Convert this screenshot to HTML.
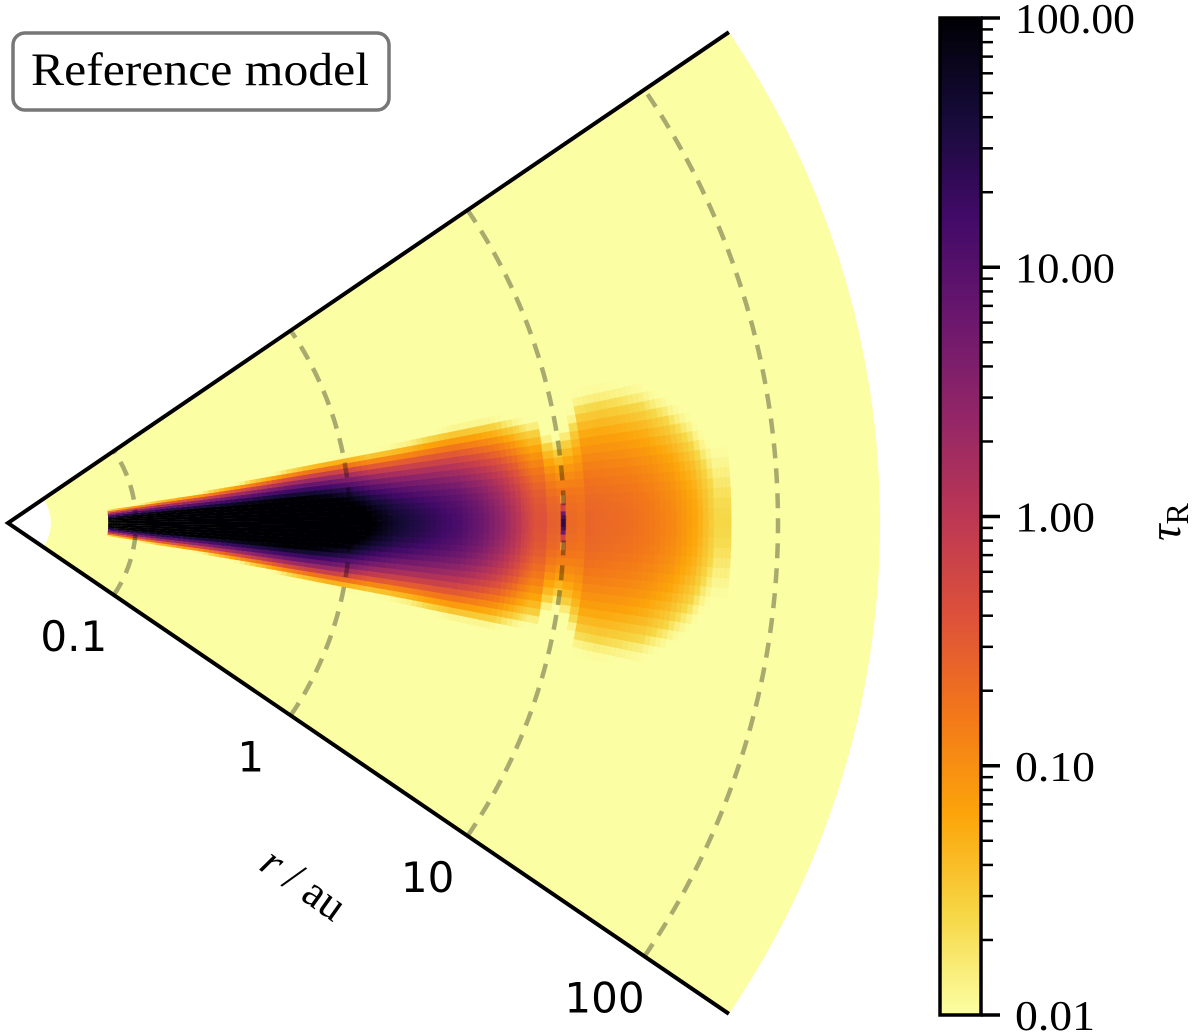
<!DOCTYPE html>
<html><head><meta charset="utf-8">
<style>
html,body{margin:0;padding:0;background:#fff;width:1200px;height:1036px;overflow:hidden}
svg text{font-family:"DejaVu Sans","Liberation Sans",sans-serif}
.serif{font-family:"Liberation Serif","DejaVu Serif",serif}
</style></head>
<body>
<svg id="chart" width="1200" height="1036" viewBox="0 0 1200 1036" xmlns="http://www.w3.org/2000/svg">
<defs>
<linearGradient id="inferno" x1="0" y1="1" x2="0" y2="0">
<stop offset="0" stop-color="#fcffa4"/><stop offset="0.1" stop-color="#f6d746"/>
<stop offset="0.2" stop-color="#fca50a"/><stop offset="0.3" stop-color="#f37819"/>
<stop offset="0.4" stop-color="#dd513a"/><stop offset="0.5" stop-color="#bc3754"/>
<stop offset="0.6" stop-color="#932667"/><stop offset="0.7" stop-color="#6a176e"/>
<stop offset="0.8" stop-color="#420a68"/><stop offset="0.9" stop-color="#160b39"/>
<stop offset="1" stop-color="#000004"/>
</linearGradient>
</defs>
<g id="wedge"></g>
<g id="cells"></g>
<g id="grid"></g>
<g id="axes"></g>
<g id="rticks"></g>
<text class="serif" x="303" y="898" font-size="44" text-anchor="middle" transform="rotate(35.5 303 885)"><tspan font-style="italic">r</tspan> / au</text>
<g>
<rect x="13" y="33" width="376" height="77" rx="12" fill="#fff" stroke="#777" stroke-width="3.5"/>
<text class="serif" x="200" y="85" font-size="47" text-anchor="middle" textLength="338" lengthAdjust="spacingAndGlyphs">Reference model</text>
</g>
<g id="cbar">
<rect x="940" y="18" width="41" height="997" fill="url(#inferno)" stroke="#000" stroke-width="3.5"/>
</g>
<text class="serif" x="1180" y="522" font-size="46" text-anchor="middle" transform="rotate(-90 1180 522)"><tspan font-style="italic">τ</tspan><tspan font-size="32" dy="8">R</tspan></text>
</svg>
<script>
// ---- data ----
const rTickValues = [0.1, 1, 10, 100];
const rTickLabels = ["0.1", "1", "10", "100"];
const cbarTickValues = [0.01, 0.1, 1, 10, 100];
const cbarTickLabels = ["0.01", "0.10", "1.00", "10.00", "100.00"];
// radial knots: log10(r/au), midplane log10(tau), angular scale (deg)
const cellLogR   = [-1.13,-1.08,-1.0,-0.9,-0.8,-0.7,-0.6,-0.5,-0.4,-0.3,-0.2,-0.1,0.0,0.1,0.2,0.3,0.4,0.5,0.6,0.7,0.8,0.86,0.92,0.97,1.01,1.06,1.1,1.2,1.3,1.4,1.5,1.6,1.7,1.78];
const cellLogTau = [2.3,2.6,2.8,3.0,3.0,3.0,3.0,3.0,3.0,3.0,2.9,2.7,2.4,2.0,1.7,1.5,1.3,1.1,0.8,0.4,-0.1,-0.4,-0.55,-0.6,-0.65,-0.7,-0.6,-0.65,-0.7,-0.8,-0.95,-1.2,-1.6];
const cellHDeg   = [3.6,3.6,3.7,3.8,3.9,4.0,4.2,4.4,4.6,4.8,5.0,5.2,5.4,5.6,5.9,6.2,6.6,7.0,7.4,8.0,8.6,9.0,8.0,7.5,8.5,10,11,11.5,11.5,11.5,11,10.5,10];
const dotLogR = [0.985, 1.005];
const dotLogTau = [1.1];
const dotHDeg = [1.4];
const rInnerAu = 0.04, rOuterAu = 300;
// ---- geometry ----
const CX = 8, CY = 523, HALF = 34.25, DEC = 214, R01 = 128;
const rpx = lr => R01 + (lr + 1) * DEC;
const pt = (r, deg) => [CX + r * Math.cos(deg * Math.PI / 180), CY - r * Math.sin(deg * Math.PI / 180)];
function sector(r0, r1, a0, a1) {
  const p1 = pt(r0, a0), p2 = pt(r1, a0), p3 = pt(r1, a1), p4 = pt(r0, a1);
  return `M${p1} L${p2} A${r1} ${r1} 0 0 0 ${p3} L${p4} A${r0} ${r0} 0 0 1 ${p1}Z`;
}
const NS = "http://www.w3.org/2000/svg";
const mk = (t, a, parent) => { const e = document.createElementNS(NS, t); for (const k in a) e.setAttribute(k, a[k]); parent.appendChild(e); return e; };
const inf = [[0,0,4],[22,11,57],[66,10,104],[106,23,110],[147,38,103],[188,55,84],[221,81,58],[243,120,25],[252,165,10],[246,215,70],[252,255,164]];
function color(lt) {
  let t = 1 - (lt + 2) / 4; t = Math.max(0, Math.min(1, t));
  const f = t * 10, i = Math.min(9, Math.floor(f)), u = f - i;
  const c = inf[i].map((v, k) => Math.round(v + (inf[i + 1][k] - v) * u));
  return `rgb(${c})`;
}
const wedge = document.getElementById('wedge');
const bg = mk('path', {d: sector(rpx(Math.log10(rInnerAu)), rpx(Math.log10(rOuterAu)), -HALF, HALF), fill: '#fcfea4'}, wedge);


const cells = document.getElementById('cells');
const dA = 0.8, SUB = 4;
function drawCell(r0, r1, mid, h) {
  for (let a = -14; a < 14; a += dA) {
    const th = a + dA / 2;
    const lt = mid - Math.pow(th / h, 2);
    if (lt < -2) continue;
    const op = lt < -1.6 ? (lt + 2) / 0.4 : 1;
    const c = mk('path', {d: sector(r0, r1 + 0.6, a, a + dA + 0.05), fill: color(lt), 'fill-opacity': op.toFixed(2)}, cells);
    
    
  }
}
for (let i = 0; i < cellLogTau.length; i++) {
  const smooth = i < 21 || i > 25;
  const n = smooth ? SUB : 1;
  const nx = Math.min(i + 1, cellLogTau.length - 1);
  for (let s = 0; s < n; s++) {
    const u = s / n;
    const lr0 = cellLogR[i] + (cellLogR[i + 1] - cellLogR[i]) * u;
    const lr1 = cellLogR[i] + (cellLogR[i + 1] - cellLogR[i]) * (s + 1) / n;
    const w = smooth ? u : 0;
    const mid = cellLogTau[i] + (cellLogTau[nx] - cellLogTau[i]) * w;
    const h = cellHDeg[i] + (cellHDeg[nx] - cellHDeg[i]) * w;
    drawCell(rpx(lr0), rpx(lr1), mid, h);
  }
}
drawCell(rpx(dotLogR[0]), rpx(dotLogR[1]), dotLogTau[0], dotHDeg[0]);
// grid arcs
const grid = document.getElementById('grid');
rTickValues.forEach(v => {
  const r = rpx(Math.log10(v)), p0 = pt(r, -HALF), p1 = pt(r, HALF);
  const g = mk('path', {d: `M${p0} A${r} ${r} 0 0 0 ${p1}`, fill: 'none', stroke: '#000', 'stroke-opacity': 0.33, 'stroke-width': 4.5, 'stroke-dasharray': '15 10'}, grid);
  
  
});
const axes = document.getElementById('axes');
const rO = rpx(Math.log10(rOuterAu));
const e = mk('path', {d: `M${pt(rO, HALF)} L${CX},${CY} L${pt(rO, -HALF)}`, fill: 'none', stroke: '#000', 'stroke-width': 4}, axes);


// r tick labels
const rt = document.getElementById('rticks');
rTickValues.forEach((v, i) => {
  const p = pt(rpx(Math.log10(v)), -HALF);
  const t = mk('text', {x: p[0] - 40, y: p[1] + 56, 'font-size': 42, 'text-anchor': 'middle'}, rt);
  t.textContent = rTickLabels[i];
  
  
});
// colorbar ticks
const cb = document.getElementById('cbar');
const cy = v => 1015 - (Math.log10(v) + 2) / 4 * 997;
cbarTickValues.forEach((v, i) => {
  const y = cy(v);
  const l = mk('line', {x1: 981, x2: 1000, y1: y, y2: y, stroke: '#000', 'stroke-width': 3.5}, cb);
  
  
  const t = mk('text', {x: 1015, y: y + 15, 'font-size': 42, class: 'serif', textLength: cbarTickLabels[i].length * 20, lengthAdjust: 'spacingAndGlyphs'}, cb);
  t.textContent = cbarTickLabels[i];
  
  
  if (i < cbarTickValues.length - 1) {
    for (let m = 2; m <= 9; m++) {
      const ym = cy(v * m);
      const ml = mk('line', {x1: 981, x2: 993, y1: ym, y2: ym, stroke: '#000', 'stroke-width': 2.5}, cb);
      
      
    }
  }
});
</script>
</body></html>
